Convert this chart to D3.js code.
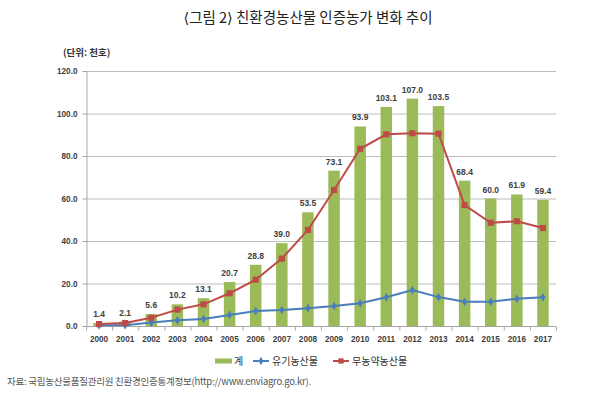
<!DOCTYPE html>
<html>
<head>
<meta charset="utf-8">
<script src="https://cdn.jsdelivr.net/npm/d3@7"></script>
<style>
  html, body { margin: 0; padding: 0; background: #fff; }
  svg { display: block; }
</style>
</head>
<body>
<script>
const years = ['2000', '2001', '2002', '2003', '2004', '2005', '2006', '2007', '2008',
  '2009', '2010', '2011', '2012', '2013', '2014', '2015', '2016', '2017']
const totals = [1.4, 2.1, 5.6, 10.2, 13.1, 20.7, 28.8, 39.0, 53.5, 73.1, 93.9, 103.1,
  107.0, 103.5, 68.4, 60.0, 61.9, 59.4]
const organic = [0.3, 0.4, 1.6, 2.7, 3.3, 5.2, 7.1, 7.5, 8.4, 9.4, 10.7, 13.5, 16.9,
  13.6, 11.4, 11.4, 12.8, 13.5]
const noPesticide = [0.9, 1.4, 3.9, 7.7, 10.2, 15.4, 21.8, 31.7, 45.2, 64.0, 83.4,
  90.2, 90.7, 90.5, 56.9, 48.6, 49.3, 46.1]
const yTicks = [0, 20, 40, 60, 80, 100, 120]
const legendNames = ['계', '유기농산물', '무농약농산물']

;(function () {
  const W = 609
  const H = 399
  const left = 86
  const right = 556
  const top = 71
  const bottom = 326
  const green = '#9bbb59'
  const blue = '#4a7ebb'
  const red = '#be4b48'
  const numFont = '"Liberation Sans", Arial, sans-serif'
  const krFont = '"Noto Sans CJK KR", sans-serif'

  const svg = d3.select('body').append('svg').attr('width', W).attr('height', H)

  const x = d3.scaleBand().domain(years).range([left, right]).padding(0)
  const y = d3.scaleLinear().domain([0, 120]).range([bottom, top])
  const cx = (d) => x(d) + x.bandwidth() / 2
  const barW = 11.5

  // title + unit
  const title = svg.append('text')
    .attr('x', 308).attr('y', 23)
    .attr('text-anchor', 'middle')
    .attr('font-family', krFont).attr('font-size', 14.5)
    .attr('fill', '#222')
  title.append('tspan').attr('font-family', '"DejaVu Sans", sans-serif').text('⟨')
  title.append('tspan').text('그림 2')
  title.append('tspan').attr('font-family', '"DejaVu Sans", sans-serif').text('⟩')
  title.append('tspan').text(' 친환경농산물 인증농가 변화 추이')

  svg.append('text')
    .attr('x', 63).attr('y', 56)
    .attr('font-family', krFont).attr('font-size', 9.5)
    .attr('font-weight', 'bold')
    .attr('fill', '#333')
    .text('(단위: 천호)')

  // gridlines
  svg.append('g').selectAll('line')
    .data(yTicks.filter((t) => t > 0))
    .enter().append('line')
    .attr('x1', left).attr('x2', right)
    .attr('y1', (d) => y(d) + 0.5).attr('y2', (d) => y(d) + 0.5)
    .attr('stroke', '#bdbdbd').attr('stroke-width', 1)

  // y axis
  const yAxis = svg.append('g')
    .attr('transform', `translate(${left + 0.5},0)`)
    .call(d3.axisLeft(y).tickValues(yTicks).tickSize(4).tickPadding(5)
      .tickFormat(d3.format('.1f')))
  yAxis.select('.domain').attr('stroke', '#a6a6a6')
  yAxis.selectAll('.tick line').attr('stroke', '#a6a6a6')
  yAxis.selectAll('text')
    .attr('font-family', numFont).attr('font-size', 8.2)
    .attr('font-weight', 'bold').attr('fill', '#404040')

  // bars
  svg.append('g').selectAll('rect')
    .data(years)
    .enter().append('rect')
    .attr('x', (d) => cx(d) - barW / 2)
    .attr('width', barW)
    .attr('y', (d, i) => y(totals[i]))
    .attr('height', (d, i) => bottom - y(totals[i]))
    .attr('fill', green)

  // x axis
  const xAxis = svg.append('g')
    .attr('transform', `translate(0,${bottom + 0.5})`)
  xAxis.append('line')
    .attr('x1', left).attr('x2', right)
    .attr('stroke', '#a6a6a6')
  xAxis.selectAll('line.tk')
    .data(years.concat(['end']))
    .enter().append('line')
    .attr('class', 'tk')
    .attr('x1', (d, i) => left + i * x.step() + 0.5)
    .attr('x2', (d, i) => left + i * x.step() + 0.5)
    .attr('y1', 0).attr('y2', 4)
    .attr('stroke', '#a6a6a6')
  xAxis.selectAll('text')
    .data(years)
    .enter().append('text')
    .attr('x', cx).attr('y', 15)
    .attr('text-anchor', 'middle')
    .attr('font-family', numFont).attr('font-size', 8.2)
    .attr('font-weight', 'bold').attr('fill', '#404040')
    .text((d) => d)

  // lines
  const drawSeries = (values, color, shape, size) => {
    const line = d3.line()
      .x((d, i) => cx(years[i]))
      .y((d) => y(d))
    svg.append('path')
      .datum(values)
      .attr('d', line)
      .attr('fill', 'none')
      .attr('stroke', color)
      .attr('stroke-width', 2)
    svg.append('g').selectAll('path')
      .data(values)
      .enter().append('path')
      .attr('transform', (d, i) => `translate(${cx(years[i])},${y(d)})`)
      .attr('d', d3.symbol().type(shape).size(size))
      .attr('fill', color)
  }
  drawSeries(organic, blue, d3.symbolDiamond, 22)
  drawSeries(noPesticide, red, d3.symbolSquare, 38)

  // value labels
  svg.append('g').selectAll('text')
    .data(years)
    .enter().append('text')
    .attr('x', cx)
    .attr('y', (d, i) => y(totals[i]) - 6)
    .attr('text-anchor', 'middle')
    .attr('font-family', numFont).attr('font-size', 8.5)
    .attr('font-weight', 'bold').attr('fill', '#404040')
    .text((d, i) => totals[i].toFixed(1))

  // legend
  const lg = svg.append('g').attr('transform', 'translate(0,361)')
  lg.append('rect')
    .attr('x', 215).attr('y', -2.5).attr('width', 17).attr('height', 5)
    .attr('fill', green)
  lg.append('text')
    .attr('x', 234).attr('y', 3.5)
    .attr('font-family', krFont).attr('font-size', 10).attr('fill', '#333')
    .text(legendNames[0])

  const lineKey = (x0, color, shape, size, label) => {
    lg.append('line')
      .attr('x1', x0).attr('x2', x0 + 16)
      .attr('stroke', color).attr('stroke-width', 2)
    lg.append('path')
      .attr('transform', `translate(${x0 + 8},0)`)
      .attr('d', d3.symbol().type(shape).size(size))
      .attr('fill', color)
    lg.append('text')
      .attr('x', x0 + 19).attr('y', 3.5)
      .attr('font-family', krFont).attr('font-size', 10).attr('fill', '#333')
      .text(label)
  }
  lineKey(253, blue, d3.symbolDiamond, 20, legendNames[1])
  lineKey(333, red, d3.symbolSquare, 28, legendNames[2])

  // source
  svg.append('text')
    .attr('x', 7).attr('y', 385)
    .attr('font-family', krFont).attr('font-size', 9.5)
    .attr('letter-spacing', -0.25).attr('fill', '#555')
    .text('자료: 국립농산물품질관리원 친환경인증통계정보(http://www.enviagro.go.kr).')
})()
</script>
</body>
</html>
